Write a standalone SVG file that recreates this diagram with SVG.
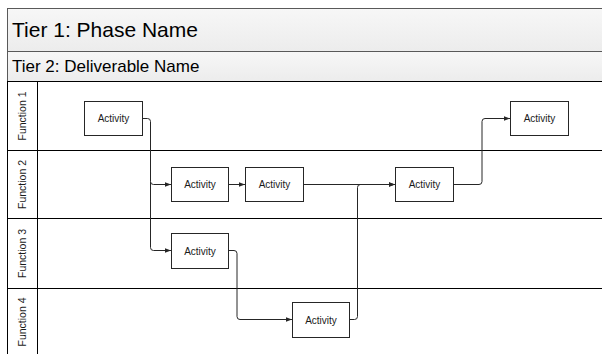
<svg xmlns="http://www.w3.org/2000/svg" width="602" height="354" viewBox="0 0 602 354">
  <style>
    .tier { fill: url(#tierFill); stroke: #595959; stroke-width: 1; }
    .lane { fill: #ffffff; stroke: #000000; stroke-width: 1; }
    .hdr { fill: #ffffff; stroke: #000000; stroke-width: 1; }
    .act rect { fill: #ffffff; stroke: #262626; stroke-width: 1; }
    .act text { font-family: "Liberation Sans", Arial, sans-serif; font-size: 10px; fill: #1a1a1a; text-anchor: middle; }
    .lbl { font-family: "Liberation Sans", Arial, sans-serif; font-size: 10.5px; fill: #1a1a1a; text-anchor: middle; }
    .ttl { font-family: "Liberation Sans", Arial, sans-serif; fill: #000000; }
    .conn path { fill: none; stroke: #262626; stroke-width: 1; marker-end: url(#arrow); }
  </style>
  <defs>
    <linearGradient id="tierFill" x1="0" y1="0" x2="0" y2="1">
      <stop offset="0" stop-color="#f7f7f7"/>
      <stop offset="1" stop-color="#ececec"/>
    </linearGradient>
    <marker id="arrow" viewBox="0 0 6 6" refX="6" refY="3" markerWidth="6" markerHeight="6" markerUnits="userSpaceOnUse" orient="auto">
      <path d="M0,0.8 L6,3 L0,5.2 Z" fill="#262626"/>
    </marker>
  </defs>

  <rect width="602" height="354" fill="#ffffff"/>

  <!-- tier headers -->
  <g id="tier1">
    <rect class="tier" x="7.5" y="8.5" width="600" height="43"/>
    <text class="ttl" x="12" y="37" font-size="21">Tier 1: Phase Name</text>
  </g>
  <g id="tier2">
    <rect class="tier" x="7.5" y="51.5" width="600" height="30"/>
    <text class="ttl" x="12" y="72" font-size="17">Tier 2: Deliverable Name</text>
  </g>

  <!-- swimlanes -->
  <g id="lane1">
    <rect class="lane" x="7.5" y="81.5" width="600" height="69"/>
    <rect class="hdr" x="7.5" y="81.5" width="30" height="69"/>
    <text class="lbl" transform="translate(26,116) rotate(-90)">Function 1</text>
  </g>
  <g id="lane2">
    <rect class="lane" x="7.5" y="150.5" width="600" height="68"/>
    <rect class="hdr" x="7.5" y="150.5" width="30" height="68"/>
    <text class="lbl" transform="translate(26,184.5) rotate(-90)">Function 2</text>
  </g>
  <g id="lane3">
    <rect class="lane" x="7.5" y="218.5" width="600" height="70"/>
    <rect class="hdr" x="7.5" y="218.5" width="30" height="70"/>
    <text class="lbl" transform="translate(26,253.5) rotate(-90)">Function 3</text>
  </g>
  <g id="lane4">
    <rect class="lane" x="7.5" y="288.5" width="600" height="70"/>
    <rect class="hdr" x="7.5" y="288.5" width="30" height="70"/>
    <text class="lbl" transform="translate(26,322) rotate(-90)">Function 4</text>
  </g>

  <!-- connectors -->
  <g id="connectors" class="conn">
    <path d="M142,118.5 H147.5 Q150.5,118.5 150.5,121.5 V181.5 Q150.5,184.5 153.5,184.5 H171"/>
    <path d="M150.5,181.5 V247.5 Q150.5,250.5 153.5,250.5 H171"/>
    <path d="M229,184.5 H245"/>
    <path d="M303,184.5 H395"/>
    <path d="M229,250.5 H234 Q237,250.5 237,253.5 V316.5 Q237,319.5 240,319.5 H292"/>
    <path d="M350,319.5 H354.5 Q357.5,319.5 357.5,316.5 V187.5 Q357.5,184.5 360.5,184.5 H395"/>
    <path d="M453,184.5 H479 Q482,184.5 482,181.5 V121.5 Q482,118.5 485,118.5 H510"/>
  </g>

  <!-- activities -->
  <g id="act1" class="act">
    <rect x="84.5" y="101.5" width="58" height="34"/>
    <text x="113.5" y="122">Activity</text>
  </g>
  <g id="act2" class="act">
    <rect x="171.5" y="167.5" width="57" height="34"/>
    <text x="200" y="188">Activity</text>
  </g>
  <g id="act3" class="act">
    <rect x="245.5" y="167.5" width="58" height="34"/>
    <text x="274.5" y="188">Activity</text>
  </g>
  <g id="act4" class="act">
    <rect x="395.5" y="167.5" width="58" height="34"/>
    <text x="424.5" y="188">Activity</text>
  </g>
  <g id="act5" class="act">
    <rect x="510.5" y="101.5" width="58" height="34"/>
    <text x="539.5" y="122">Activity</text>
  </g>
  <g id="act6" class="act">
    <rect x="171.5" y="233.5" width="57" height="35"/>
    <text x="200" y="254.5">Activity</text>
  </g>
  <g id="act7" class="act">
    <rect x="292.5" y="302.5" width="57" height="35"/>
    <text x="321" y="323.5">Activity</text>
  </g>
</svg>
